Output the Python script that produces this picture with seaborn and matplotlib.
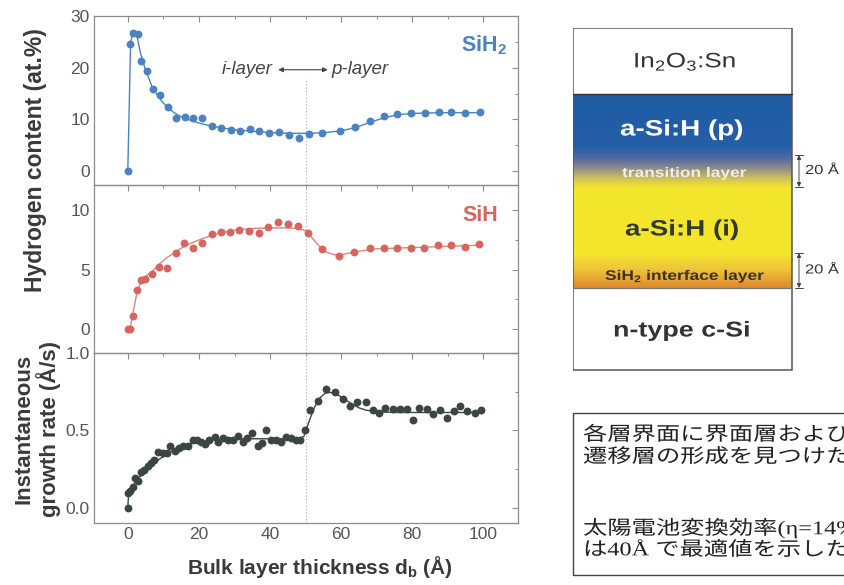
import matplotlib
matplotlib.use("Agg")
import numpy as np
import pandas as pd
import matplotlib.pyplot as plt
import seaborn as sns
from matplotlib.colors import LinearSegmentedColormap
from matplotlib.patches import Rectangle
from matplotlib.patheffects import AbstractPathEffect
from matplotlib.transforms import Affine2D
from matplotlib.ticker import MultipleLocator, FormatStrFormatter

# ---------------------------------------------------------------- data
# SiH2 hydrogen content (at.%) vs bulk layer thickness (Å)
sih2_x = [0, 0.7, 1.6, 2.9, 3.8, 5.3, 7.1, 9.0, 11.4, 13.6, 16.0, 18.3, 21.0,
          23.8, 26.2, 28.9, 31.6, 34.4, 37.0, 39.7, 42.4, 45.2, 48.0, 50.9,
          54.7, 59.7, 63.9, 68.1, 72.0, 75.8, 79.7, 83.5, 87.4, 91.0, 94.9, 98.9]
sih2_y = [0, 24.6, 26.8, 26.5, 21.3, 19.4, 15.9, 14.7, 12.4, 10.3, 10.4, 10.3,
          10.3, 8.8, 8.4, 7.9, 7.7, 8.1, 7.8, 7.3, 7.6, 7.0, 6.3, 7.2, 7.3, 7.7,
          8.5, 9.6, 10.6, 11.1, 11.3, 11.2, 11.4, 11.5, 11.3, 11.4]
sih2_fit_x = [0, 0.8, 1.6, 2.5, 3.5, 5, 7, 9, 11, 13, 15, 18, 21, 25, 30, 35,
              40, 45, 50, 55, 60, 64, 68, 72, 76, 80, 85, 90, 95, 99]
sih2_fit_y = [0, 25.0, 27.0, 26.4, 23.0, 19.5, 16.0, 14.0, 12.4, 11.3, 10.5,
              9.7, 9.1, 8.5, 8.0, 7.7, 7.45, 7.3, 7.3, 7.4, 7.8, 8.4, 9.4,
              10.3, 10.9, 11.15, 11.25, 11.3, 11.3, 11.3]

# SiH hydrogen content (at.%)
sih_x = [0, 0.6, 1.35, 2.6, 3.7, 4.9, 6.7, 8.9, 11.1, 13.5, 15.8, 18.2, 20.9,
         23.6, 26.1, 28.6, 31.4, 34.2, 36.8, 39.5, 42.3, 45.1, 47.8, 50.7,
         54.7, 59.5, 63.7, 68.0, 71.9, 75.6, 79.7, 83.4, 87.2, 90.8, 94.9, 98.7]
sih_y = [0, 0, 1.1, 3.25, 4.1, 4.25, 4.6, 5.25, 5.15, 6.4, 7.2, 6.8, 7.2, 7.95,
         8.15, 8.15, 8.3, 8.2, 8.1, 8.55, 9.0, 8.85, 8.65, 8.1, 6.7, 6.15, 6.5,
         6.8, 6.85, 6.8, 6.85, 6.85, 7.1, 7.1, 6.9, 7.15]
sih_fit_x = [0.4, 0.8, 1.4, 2.6, 3.7, 5, 7, 9, 11, 13, 15, 18, 21, 25, 30, 35,
             40, 45, 48, 50, 52, 54, 56, 58, 60, 64, 70, 80, 90, 99]
sih_fit_y = [0, 0.3, 1.3, 3.1, 3.95, 4.4, 4.9, 5.5, 6.0, 6.4, 6.8, 7.25, 7.6,
             8.0, 8.3, 8.45, 8.5, 8.5, 8.45, 8.25, 7.6, 6.9, 6.45, 6.25, 6.25,
             6.5, 6.75, 6.85, 6.95, 7.05]

# instantaneous growth rate (Å/s)
rate_x = [0, 0.1, 0.7, 1.5, 2.0, 2.95, 3.7, 4.6, 5.6, 6.5, 7.5, 8.6, 9.8, 10.9,
          12.0, 13.4, 14.5, 15.6, 16.8, 18.2, 19.4, 20.7, 21.8, 22.9, 24.4,
          25.5, 26.9, 28.2, 29.5, 31.0, 32.3, 33.5, 35.0, 36.5, 37.6, 38.9,
          40.4, 41.7, 43.1, 44.5, 45.9, 47.4, 48.5, 49.8, 51.2, 53.5, 55.7,
          58.2, 60.4, 62.5, 64.4, 66.9, 68.8, 70.5, 72.4, 74.5, 76.4, 78.5,
          80.3, 82.0, 84.0, 85.8, 87.9, 89.8, 91.6, 93.3, 95.4, 97.5, 99.3]
rate_y = [0.0, 0.095, 0.11, 0.13, 0.19, 0.17, 0.23, 0.245, 0.27, 0.29, 0.305,
          0.36, 0.355, 0.355, 0.40, 0.365, 0.383, 0.40, 0.40, 0.44, 0.435,
          0.427, 0.41, 0.435, 0.455, 0.425, 0.45, 0.44, 0.435, 0.46, 0.427,
          0.45, 0.48, 0.40, 0.415, 0.50, 0.437, 0.435, 0.427, 0.457, 0.447,
          0.435, 0.435, 0.50, 0.63, 0.69, 0.765, 0.75, 0.705, 0.66, 0.685,
          0.685, 0.628, 0.612, 0.647, 0.636, 0.636, 0.636, 0.565, 0.645, 0.636,
          0.604, 0.628, 0.578, 0.625, 0.656, 0.625, 0.615, 0.632]
rate_fit_x = [0, 0.2, 1, 2, 3, 4, 5, 6, 8, 10, 12, 15, 18, 20, 25, 30, 35, 40,
              45, 48, 49.5, 51, 52.5, 54, 55.5, 57, 59, 61, 63, 65, 67, 70, 75,
              80, 90, 99]
rate_fit_y = [0, 0.08, 0.12, 0.16, 0.19, 0.215, 0.24, 0.26, 0.30, 0.33, 0.36,
              0.39, 0.415, 0.425, 0.44, 0.445, 0.445, 0.445, 0.445, 0.445, 0.46,
              0.56, 0.65, 0.71, 0.74, 0.745, 0.73, 0.70, 0.67, 0.645, 0.63,
              0.62, 0.615, 0.615, 0.615, 0.615]

x_ticks = [0, 20, 40, 60, 80, 100]
panel_ticks = [[0, 10, 20, 30], [0, 5, 10], [0.0, 0.5, 1.0]]
panel_limits = [(-2.7, 30), (-2.0, 12.1), (-0.1, 1.0)]

# ---------------------------------------------------------------- style
sns.set_theme(style="white")
plt.rcParams["font.family"] = ["Liberation Sans", "Noto Sans CJK JP"]
plt.rcParams["mathtext.fontset"] = "custom"
plt.rcParams["mathtext.rm"] = "Liberation Sans"
plt.rcParams["mathtext.bf"] = "Liberation Sans:bold"
plt.rcParams["mathtext.it"] = "Liberation Sans:italic"
plt.rcParams["mathtext.default"] = "regular"

BLUE = "#4a82c2"
RED = "#d9635d"
RED_LINE = "#e3837a"
DARK = "#3b4644"
SPINE = "#8c8c8c"
TICKTXT = "#555555"


class WideGlyphs(AbstractPathEffect):
    """Draw text glyphs widened horizontally about the text origin."""

    def __init__(self, sx=1.25):
        super().__init__()
        self.sx = sx

    def draw_path(self, renderer, gc, tpath, affine, rgbFace=None):
        renderer.draw_path(gc, tpath, Affine2D().scale(self.sx, 1.0) + affine,
                           rgbFace)


W, H = 845, 585
fig = plt.figure(figsize=(W / 100, H / 100), dpi=100)
fig.patch.set_facecolor("white")

left, right = 94 / W, 518 / W
rows = [(16, 185), (185, 353), (353, 523)]

series = [
    (sih2_x, sih2_y, sih2_fit_x, sih2_fit_y, BLUE, BLUE),
    (sih_x, sih_y, sih_fit_x, sih_fit_y, RED, RED_LINE),
    (rate_x, rate_y, rate_fit_x, rate_fit_y, DARK, DARK),
]
minor_steps = [5, 2.5, 0.25]

axes = []
for i, ((top, bot), (px, py, fx, fy, mc, lc)) in enumerate(zip(rows, series)):
    ax = fig.add_axes([left, 1 - bot / H, right - left, (bot - top) / H])
    axes.append(ax)
    fit = pd.DataFrame({"d": fx, "v": fy})
    pts = pd.DataFrame({"d": px, "v": py})
    sns.lineplot(data=fit, x="d", y="v", ax=ax, color=lc, lw=1.0,
                 estimator=None, sort=False, zorder=2)
    sns.scatterplot(data=pts, x="d", y="v", ax=ax, color=mc, s=32,
                    edgecolor=mc, linewidth=0, zorder=3)
    ax.set_xlim(-9.5, 109.7)
    ax.set_ylim(*panel_limits[i])
    ax.set_xticks(x_ticks)
    ax.xaxis.set_minor_locator(MultipleLocator(10))
    ax.set_yticks(panel_ticks[i])
    ax.yaxis.set_minor_locator(MultipleLocator(minor_steps[i]))
    if i == 2:
        ax.yaxis.set_major_formatter(FormatStrFormatter("%.1f"))
    ax.set_xlabel("")
    ax.set_ylabel("")
    ax.tick_params(which="both", direction="in", top=True, right=True,
                   color=SPINE, labelcolor=TICKTXT, labelsize=12.5, pad=3)
    ax.tick_params(which="major", length=4, width=0.8)
    ax.tick_params(which="minor", length=2.2, width=0.7)
    if i < 2:
        ax.tick_params(axis="x", labelbottom=False)
    for sp in ax.spines.values():
        sp.set_color(SPINE)
        sp.set_linewidth(0.9)
    ax.patch.set_alpha(0)

# interface between i- and p-layer
axes[0].plot([50, 50], [-2.7, 18.0], ls=(0, (1, 2)), lw=0.8, color="#ababab",
             zorder=1)
axes[1].axvline(50, ls=(0, (1, 2)), lw=0.8, color="#ababab", zorder=1)
axes[2].axvline(50, ls=(0, (1, 2)), lw=0.8, color="#ababab", zorder=1)

axes[0].text(40.8, 19.6, "i-layer", style="italic", fontsize=13.5,
             color="#444444", ha="right", va="center")
axes[0].text(57.2, 19.6, "p-layer", style="italic", fontsize=13.5,
             color="#444444", ha="left", va="center")
axes[0].annotate("", xy=(42.3, 19.6), xytext=(56.2, 19.6),
                 arrowprops=dict(arrowstyle="<|-|>", lw=0.8, color="#444444",
                                 mutation_scale=7, shrinkA=0, shrinkB=0))

axes[0].text(106.5, 24.4, r"SiH$_\mathbf{2}$", fontsize=15.5,
             fontweight="bold", color=BLUE, ha="right", va="center")
axes[1].text(104.2, 9.5, "SiH", fontsize=15.5, fontweight="bold", color=RED,
             ha="right", va="center")

fig.text(36 / W, 1 - 160 / H, "Hydrogen content (at.%)", rotation=90,
         fontsize=16.5, fontweight="bold", color="#3a3a3a", ha="center",
         va="center")
fig.text(37 / W, 1 - 429 / H, "Instantaneous\ngrowth rate (Å/s)", rotation=90,
         fontsize=16, fontweight="bold", color="#3a3a3a", ha="center",
         va="center", linespacing=1.1)
fig.text(320 / W, 1 - 567 / H, r"Bulk layer thickness d$_\mathbf{b}$ (Å)",
         fontsize=15, fontweight="bold", color="#3a3a3a", ha="center",
         va="center")

# ---------------------------------------------------------------- layer stack
axd = fig.add_axes([573 / W, 1 - 372 / H, (W - 573) / W, (372 - 28) / H])
axd.set_xlim(573, W)
axd.set_ylim(372, 28)
axd.axis("off")

stack_cmap = LinearSegmentedColormap.from_list(
    "stack",
    [(0.00, "#1f5ca4"), (0.27, "#245fa7"), (0.33, "#4f6aa0"),
     (0.38, "#8d8a8c"), (0.43, "#c9bd5e"), (0.48, "#f3e42c"),
     (0.82, "#f5e62c"), (0.90, "#efc63a"), (1.00, "#e08a2e")])
grad = np.linspace(0, 1, 256).reshape(-1, 1)
axd.imshow(grad, cmap=stack_cmap, aspect="auto", extent=(573, 792, 288, 94),
           origin="upper", interpolation="bilinear", zorder=1)
axd.add_patch(Rectangle((573, 28), 219, 342, fill=False, ec="#555555",
                        lw=1.1, zorder=3))
axd.plot([573, 792], [94, 94], color="#333333", lw=1.0, zorder=3)
axd.plot([573, 792], [288, 288], color="#777777", lw=0.9, zorder=3)

wide = [WideGlyphs(1.25)]
axd.text(633, 62, r"In$_2$O$_3$:Sn", fontsize=15, color="#333333",
         ha="left", va="center", path_effects=wide, zorder=4)
axd.text(620, 130, "a-Si:H (p)", fontsize=16, fontweight="bold",
         color="white", ha="left", va="center", path_effects=wide, zorder=4)
axd.text(622, 173, "transition layer", fontsize=10, fontweight="bold",
         color="#eeeeea", ha="left", va="center", path_effects=wide, zorder=4)
axd.text(625, 230, "a-Si:H (i)", fontsize=16, fontweight="bold",
         color="#2f3a2c", ha="left", va="center", path_effects=wide, zorder=4)
axd.text(605, 276, r"SiH$_\mathbf{2}$ interface layer", fontsize=10,
         fontweight="bold", color="#3a3220", ha="left", va="center",
         path_effects=wide, zorder=4)
axd.text(613, 331, "n-type c-Si", fontsize=15.5, fontweight="bold",
         color="#333333", ha="left", va="center", path_effects=wide, zorder=4)

for y0, y1 in [(155, 187), (253, 288)]:
    axd.annotate("", xy=(799, y0), xytext=(799, y1),
                 arrowprops=dict(arrowstyle="<|-|>", lw=0.7, color="#444444",
                                 mutation_scale=6, shrinkA=0, shrinkB=0))
    axd.plot([795, 803], [y0, y0], color="#444444", lw=0.7)
    axd.plot([795, 803], [y1, y1], color="#444444", lw=0.7)
    axd.text(805, (y0 + y1) / 2, "20 Å", fontsize=9.5, color="#333333",
             ha="left", va="center", path_effects=wide)

# ---------------------------------------------------------------- note box
fig.add_artist(Rectangle((573 / W, 1 - 575 / H), (W + 20 - 573) / W,
                         (575 - 413) / H, transform=fig.transFigure,
                         fill=False, ec="#444444", lw=1.0))
note_font = ["Liberation Serif", "Noto Sans CJK JP"]
note_lines = [(435, "各層界面に界面層および"),
              (457, "遷移層の形成を見つけた。"),
              (528, "太陽電池変換効率(η=14%)"),
              (550, "は40Å で最適値を示した。")]
for yy, s in note_lines:
    fig.text(583 / W, 1 - yy / H, s, fontsize=14, family=note_font,
             color="#222222", ha="left", va="center", path_effects=wide)

fig.savefig("out.png", dpi=100, facecolor="white")
